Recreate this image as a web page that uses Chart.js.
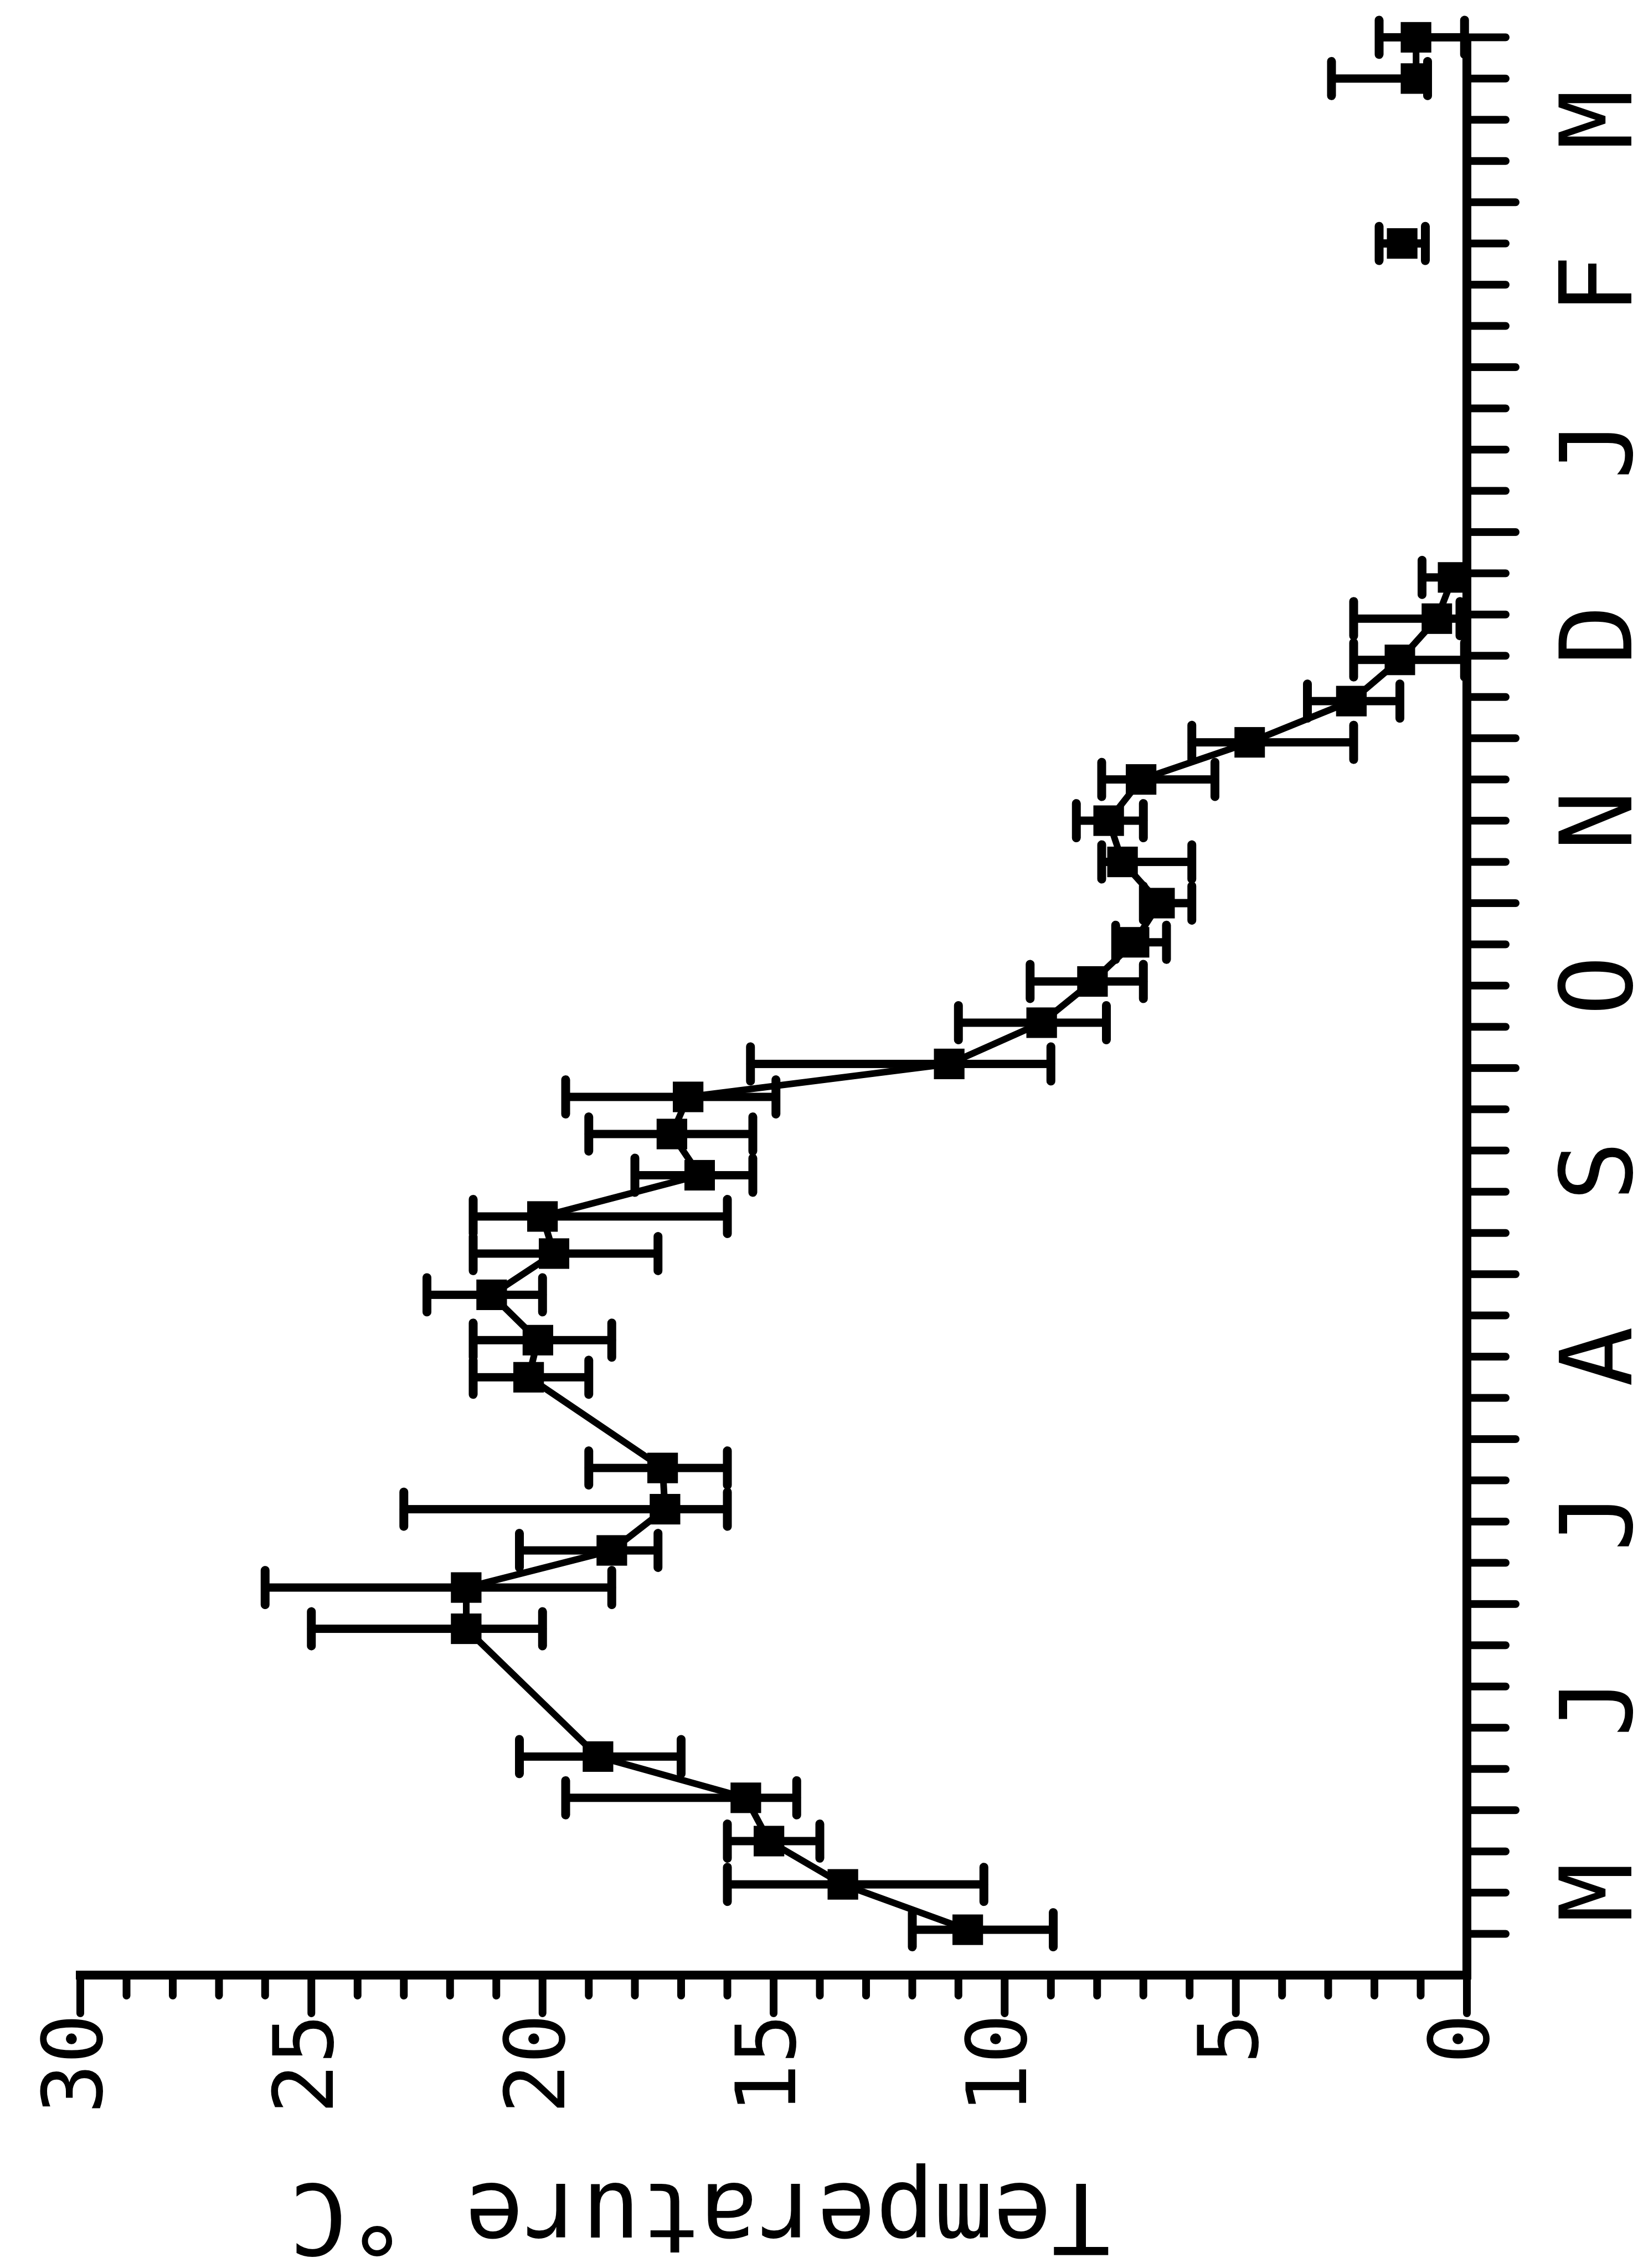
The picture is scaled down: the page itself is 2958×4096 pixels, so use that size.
<!DOCTYPE html>
<html>
<head>
<meta charset="utf-8">
<title>Temperature °C</title>
<script src="https://cdn.jsdelivr.net/npm/chart.js@4.4.1/dist/chart.umd.min.js"></script>
<style>
  html, body { margin: 0; padding: 0; background: #fff; overflow: hidden; }
  body { width: 2958px; height: 4096px; position: relative; }
  /* the plot is drawn upright, then turned a quarter turn to the left like the scan */
  #wrap { position: absolute; left: 0; top: 0; width: 4096px; height: 2958px;
          transform-origin: 0 0; transform: translate(0, 4096px) rotate(-90deg); }
  #chart { display: block; }
</style>
</head>
<body>
<div id="wrap"><canvas id="chart" width="4096" height="2958"></canvas></div>
<script>
// ===== DATA (weeks counted from 1 May) =====
const weeks = [1.1, 2.2, 3.25, 4.3, 5.3, 8.4, 9.4, 10.3, 11.3, 12.3, 14.5, 15.4, 16.5, 17.5, 18.4,
               19.4, 20.4, 21.3, 22.1, 23.1, 24.1, 25.05, 26.0, 27.0, 28.0, 29.0, 29.9, 30.9, 31.9,
               32.9, 33.9, 42.0, 46.0, 47.0];
const temps = [10.8, 13.5, 15.1, 15.6, 18.8, 21.65, 21.65, 18.5, 17.35, 17.4, 20.3, 20.1, 21.1, 19.75, 20.0,
               16.6, 17.2, 16.85, 11.2, 9.2, 8.1, 7.2, 6.65, 7.45, 7.75, 7.05, 4.7, 2.5, 1.45,
               0.65, 0.3, 1.4, 1.1, 1.1];
const lows  = [8.95, 10.45, 14.0, 14.5, 17.0, 20.0, 18.5, 17.5, 16.0, 16.0, 19.0, 18.5, 20.0, 17.5, 16.0,
               15.45, 15.45, 14.95, 9.0, 7.8, 7.0, 6.5, 5.95, 5.95, 7.0, 5.45, 2.45, 1.45, 0.05,
               0.15, 0.0, 0.9, 0.85, 0.05];
const highs = [12.0, 16.0, 16.0, 19.5, 20.5, 25.0, 26.0, 20.5, 23.0, 19.0, 21.5, 21.5, 22.5, 21.5, 21.5,
               18.0, 19.0, 19.5, 15.5, 11.0, 9.45, 7.6, 7.0, 7.9, 8.45, 7.9, 5.95, 3.45, 2.45,
               2.45, 0.97, 1.9, 2.93, 1.9];

const monthLabels = ['M', 'J', 'J', 'A', 'S', 'O', 'N', 'D', 'J', 'F', 'M'];
const monthMid    = [2, 6.5, 11, 15, 19.5, 24, 28, 32.5, 37, 41, 45];
const monthStarts = [4, 9, 13, 17, 22, 26, 30, 35, 39, 43];
const tempTicks   = [0, 5, 10, 15, 20, 25, 30];

const INK = '#000';
const MONO = '"DejaVu Sans Mono", "Liberation Mono", monospace';

function line(ctx, x1, y1, x2, y2) {
  ctx.beginPath();
  ctx.moveTo(x1, y1);
  ctx.lineTo(x2, y2);
  ctx.stroke();
}

// vertical error bars with caps
const errorBars = {
  id: 'errorBars',
  afterDatasetsDraw(chart) {
    const { ctx, scales: { x, y } } = chart;
    ctx.save();
    ctx.strokeStyle = INK;
    ctx.lineCap = 'round';
    weeks.forEach((w, i) => {
      const px = x.getPixelForValue(w);
      const top = y.getPixelForValue(highs[i]);
      const bot = y.getPixelForValue(lows[i]);
      ctx.lineWidth = 15;
      line(ctx, px, top, px, bot);
      ctx.lineWidth = 16;
      line(ctx, px - 31, top, px + 31, top);
      line(ctx, px - 31, bot, px + 31, bot);
    });
    ctx.restore();
  }
};

// tick marks (1 degree / 1 week, longer on 5 degrees and month starts) + axis title
const axisTicks = {
  id: 'axisTicks',
  afterDraw(chart) {
    const { ctx, scales: { x, y } } = chart;
    ctx.save();
    ctx.strokeStyle = INK;
    ctx.lineWidth = 14;
    ctx.lineCap = 'round';
    for (let t = 0; t <= 30; t++) {
      const py = y.getPixelForValue(t);
      line(ctx, y.right, py, y.right - (t % 5 ? 37 : 69), py);
    }
    for (let w = 1; w <= 47; w++) {
      const px = x.getPixelForValue(w);
      line(ctx, px, x.top, px, x.top + (monthStarts.includes(w) ? 88 : 70));
    }

    ctx.translate(106, y.getPixelForValue(16.6));
    ctx.rotate(-Math.PI / 2);
    ctx.fillStyle = INK;
    ctx.font = '176px ' + MONO;
    ctx.textAlign = 'center';
    ctx.textBaseline = 'middle';
    ctx.fillText('Temperature °C', 0, 0);
    ctx.restore();
  }
};

new Chart(document.getElementById('chart'), {
  type: 'scatter',
  data: {
    datasets: [{
      data: weeks.map((w, i) => ({ x: w, y: temps[i] })),
      showLine: true,
      borderColor: INK,
      borderWidth: 12,
      segment: {
        // no line across the winter gaps
        borderColor: c => (c.p1.parsed.x - c.p0.parsed.x > 3.5 ? 'rgba(0,0,0,0)' : INK)
      },
      pointStyle: 'rect',
      pointRadius: 39,
      pointBackgroundColor: INK,
      pointBorderWidth: 0,
      clip: false
    }]
  },
  options: {
    responsive: false,
    animation: false,
    devicePixelRatio: 1,
    layout: { padding: { top: 85, right: 50, left: 0, bottom: 0 } },
    plugins: { legend: { display: false }, tooltip: { enabled: false } },
    scales: {
      x: {
        type: 'linear',
        min: 0,
        max: 47,
        afterFit: s => { s.height = 309; },
        afterBuildTicks: s => { s.ticks = monthMid.map(v => ({ value: v })); },
        grid: { display: false, drawTicks: false },
        border: { display: true, color: INK, width: 16 },
        ticks: {
          autoSkip: false,
          maxRotation: 0,
          padding: 160,
          color: INK,
          font: { family: MONO, size: 180, lineHeight: 1 },
          callback: (v, i) => monthLabels[i]
        }
      },
      y: {
        type: 'linear',
        min: 0,
        max: 30,
        afterFit: s => { s.width = 529; },
        afterBuildTicks: s => { s.ticks = tempTicks.map(v => ({ value: v })); },
        grid: { display: false, drawTicks: false },
        border: { display: true, color: INK, width: 16 },
        ticks: {
          padding: 70,
          color: INK,
          font: { family: MONO, size: 150, lineHeight: 1 }
        }
      }
    }
  },
  plugins: [errorBars, axisTicks]
});
</script>
</body>
</html>
